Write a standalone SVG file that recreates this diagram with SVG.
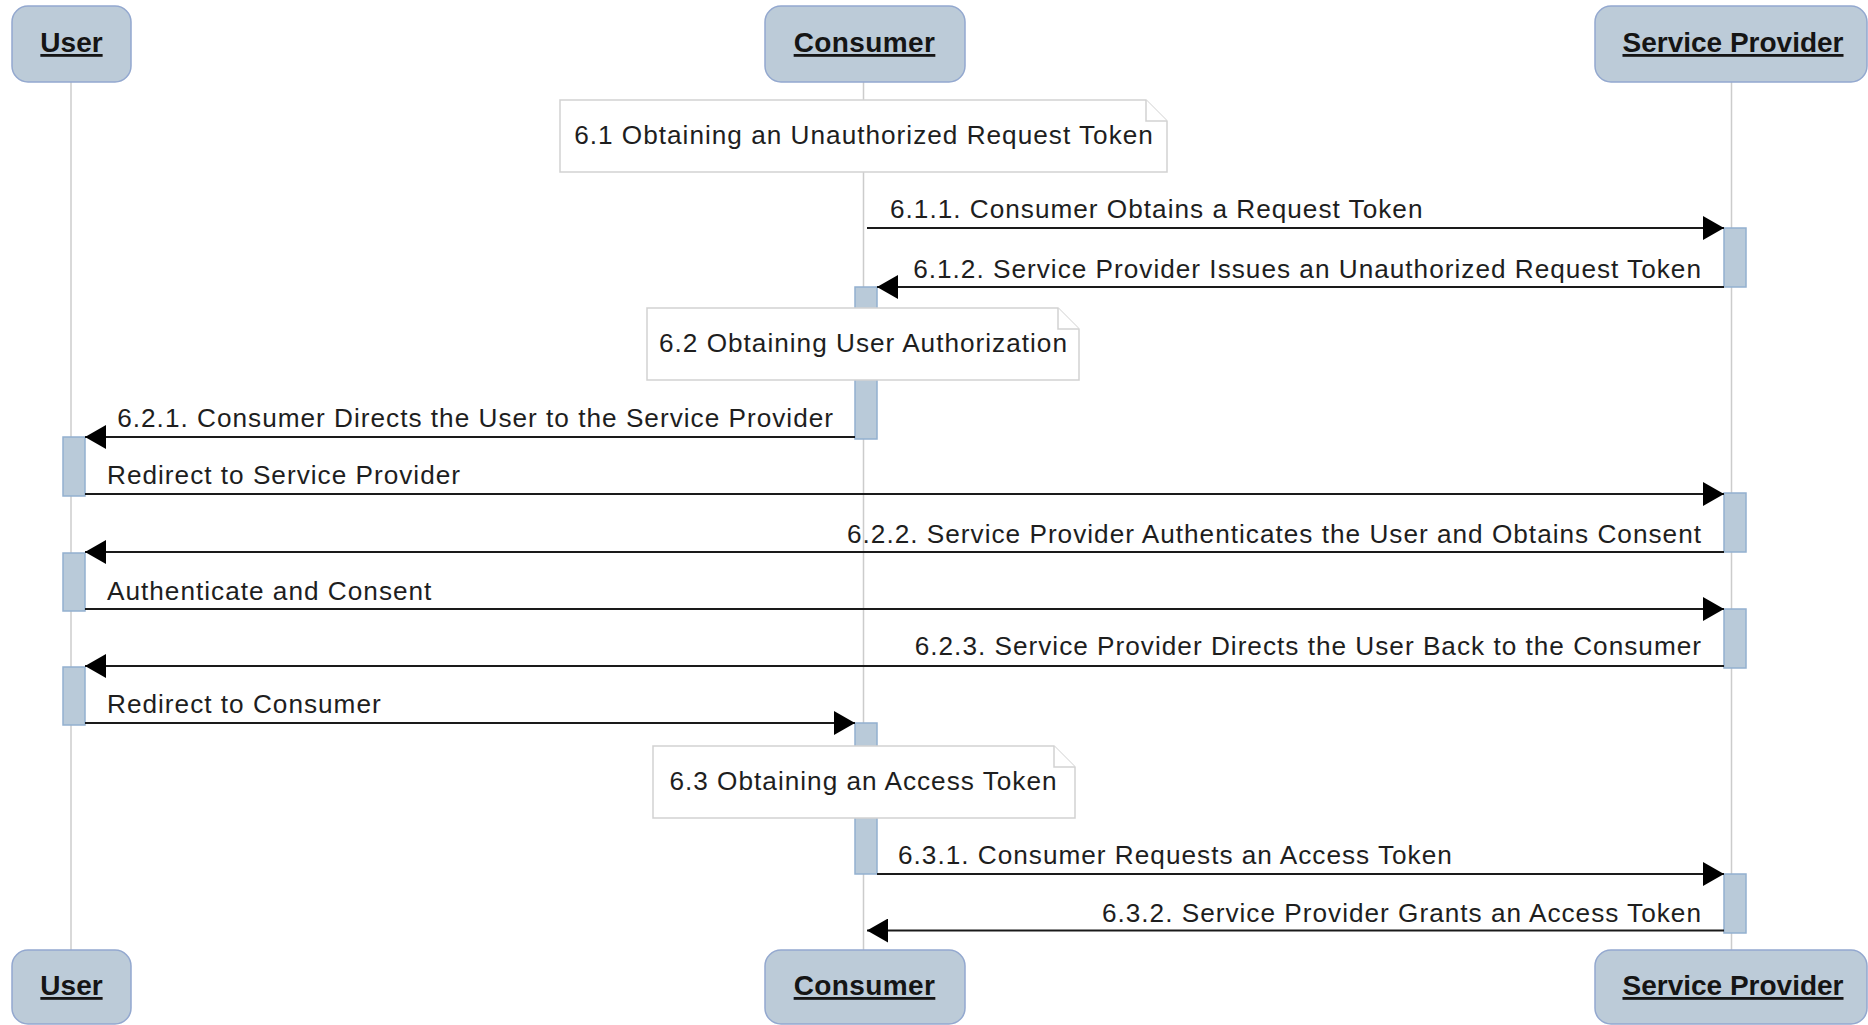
<svg xmlns="http://www.w3.org/2000/svg" width="1868" height="1025" viewBox="0 0 1868 1025">
  <style>
    .actor { fill: #bccbd8; stroke: #93a8cf; stroke-width: 1.5; }
    .actor-label { font-family: "Liberation Sans", Arial, sans-serif; font-size: 28px; font-weight: bold; fill: #151515; text-anchor: middle; text-decoration: underline; }
    .lifeline { stroke: #cccccc; stroke-width: 1.5; fill: none; }
    .activation { fill: #b9cad9; stroke: #93b0cf; stroke-width: 1.5; }
    .note { fill: #ffffff; stroke: #d2d2d2; stroke-width: 1.5; }
    .note-label { font-family: "Liberation Sans", Arial, sans-serif; font-size: 26.2px; letter-spacing: 1px; fill: #1e1e1e; text-anchor: middle; }
    .msg { stroke: #1a1a1a; stroke-width: 2; fill: none; marker-end: url(#arrow); }
    .msg-label { font-family: "Liberation Sans", Arial, sans-serif; font-size: 26.2px; letter-spacing: 1px; fill: #1e1e1e; }
    .end { text-anchor: end; }
  </style>
  <defs>
    <marker id="arrow" viewBox="0 0 21 24" refX="21" refY="12" markerWidth="21" markerHeight="24" markerUnits="userSpaceOnUse" orient="auto">
      <path d="M0,0 L21,12 L0,24 Z" fill="#000000"/>
    </marker>
  </defs>

  <!-- lifelines -->
  <g id="lifelines">
    <line class="lifeline" x1="71" y1="82" x2="71" y2="950"/>
    <line class="lifeline" x1="863.5" y1="82" x2="863.5" y2="950"/>
    <line class="lifeline" x1="1731.5" y1="82" x2="1731.5" y2="950"/>
  </g>

  <!-- participants (top and bottom) -->
  <g id="user">
    <rect class="actor" x="12" y="6" width="119" height="76" rx="16"/>
    <text class="actor-label" x="71.5" y="52">User</text>
    <rect class="actor" x="12" y="950" width="119" height="74" rx="16"/>
    <text class="actor-label" x="71.5" y="995">User</text>
  </g>
  <g id="consumer">
    <rect class="actor" x="765" y="6" width="200" height="76" rx="16"/>
    <text class="actor-label" x="864.5" y="52" style="letter-spacing:0.4px">Consumer</text>
    <rect class="actor" x="765" y="950" width="200" height="74" rx="16"/>
    <text class="actor-label" x="864.5" y="995" style="letter-spacing:0.4px">Consumer</text>
  </g>
  <g id="service-provider">
    <rect class="actor" x="1595" y="6" width="272" height="76" rx="16"/>
    <text class="actor-label" x="1733" y="52">Service Provider</text>
    <rect class="actor" x="1595" y="950" width="272" height="74" rx="16"/>
    <text class="actor-label" x="1733" y="995">Service Provider</text>
  </g>

  <!-- activation bars -->
  <g id="activations">
    <rect class="activation" x="1724" y="228" width="22" height="59"/>
    <rect class="activation" x="855" y="287" width="22" height="152"/>
    <rect class="activation" x="63" y="437" width="22" height="59"/>
    <rect class="activation" x="1724" y="493" width="22" height="59"/>
    <rect class="activation" x="63" y="553" width="22" height="58"/>
    <rect class="activation" x="1724" y="609" width="22" height="59"/>
    <rect class="activation" x="63" y="667" width="22" height="58"/>
    <rect class="activation" x="855" y="723" width="22" height="151"/>
    <rect class="activation" x="1724" y="874" width="22" height="59"/>
  </g>

  <!-- section notes -->
  <g id="note-6-1">
    <path class="note" d="M560,100 H1146 L1167,121 V172 H560 Z"/>
    <path class="note" d="M1146,100 V121 H1167"/>
    <text class="note-label" x="864" y="143.5">6.1 Obtaining an Unauthorized Request Token</text>
  </g>
  <g id="note-6-2">
    <path class="note" d="M647,308 H1058 L1079,329 V380 H647 Z"/>
    <path class="note" d="M1058,308 V329 H1079"/>
    <text class="note-label" x="863.5" y="351.5">6.2 Obtaining User Authorization</text>
  </g>
  <g id="note-6-3">
    <path class="note" d="M653,746 H1054 L1075,767 V818 H653 Z"/>
    <path class="note" d="M1054,746 V767 H1075"/>
    <text class="note-label" x="863.5" y="789.5">6.3 Obtaining an Access Token</text>
  </g>

  <!-- messages -->
  <g id="connectors">
    <line class="msg" x1="867" y1="228" x2="1724" y2="228"/>
    <text class="msg-label" x="890" y="218">6.1.1. Consumer Obtains a Request Token</text>

    <line class="msg" x1="1724" y1="287" x2="877" y2="287"/>
    <text class="msg-label end" x="1702" y="278">6.1.2. Service Provider Issues an Unauthorized Request Token</text>

    <line class="msg" x1="855" y1="437" x2="85" y2="437"/>
    <text class="msg-label end" x="834" y="427">6.2.1. Consumer Directs the User to the Service Provider</text>

    <line class="msg" x1="85" y1="494" x2="1724" y2="494"/>
    <text class="msg-label" x="107" y="483.5">Redirect to Service Provider</text>

    <line class="msg" x1="1724" y1="552" x2="85" y2="552"/>
    <text class="msg-label end" x="1702" y="542.5">6.2.2. Service Provider Authenticates the User and Obtains Consent</text>

    <line class="msg" x1="85" y1="609" x2="1724" y2="609"/>
    <text class="msg-label" x="107" y="599.5">Authenticate and Consent</text>

    <line class="msg" x1="1724" y1="666" x2="85" y2="666"/>
    <text class="msg-label end" x="1702" y="655">6.2.3. Service Provider Directs the User Back to the Consumer</text>

    <line class="msg" x1="85" y1="723" x2="855" y2="723"/>
    <text class="msg-label" x="107" y="713">Redirect to Consumer</text>

    <line class="msg" x1="877" y1="874" x2="1724" y2="874"/>
    <text class="msg-label" x="898" y="864">6.3.1. Consumer Requests an Access Token</text>

    <line class="msg" x1="1724" y1="930.5" x2="867" y2="930.5"/>
    <text class="msg-label end" x="1702" y="921.5">6.3.2. Service Provider Grants an Access Token</text>
  </g>
</svg>
